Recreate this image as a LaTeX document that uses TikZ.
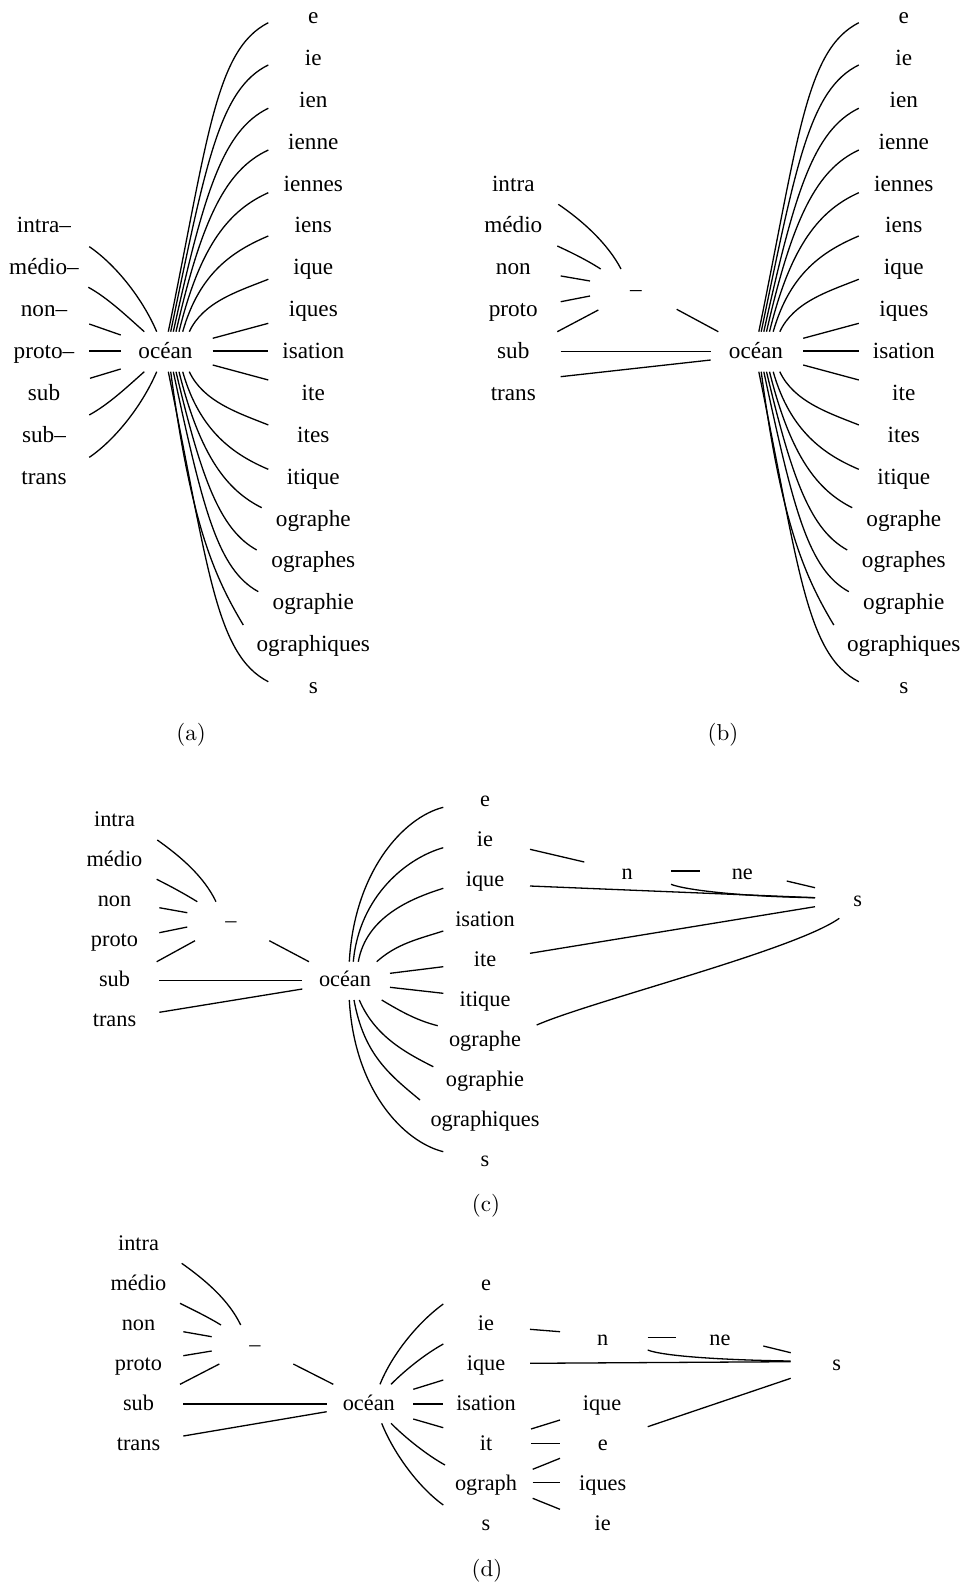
\documentclass[tikz,border=0pt]{standalone}
\usepackage{fontspec}
\usetikzlibrary{calc}
\newfontfamily\labelfamily{Liberation Serif}
\newfontfamily\capfamily{lmroman10-regular.otf}
\newcommand\labfontA{\labelfamily\fontsize{23.2pt}{28pt}\selectfont}
\newcommand\labfontB{\labelfamily\fontsize{22.3pt}{27pt}\selectfont}
\newcommand\capfont{\capfamily\fontsize{23pt}{28pt}\selectfont}
% curved connector: start node, offset, first control (rel. to start),
% second control (rel. to end), end node, offset
\newcommand\curveEdge[6]{\draw[link] ($(#1)+(#2)$) .. controls ($(#1)+(#2)+(#3)$) and ($(#5)+(#6)+(#4)$) .. ($(#5)+(#6)$);}
% straight connector: start node, offset, end node, offset
\newcommand\lineEdge[4]{\draw[link] ($(#1)+(#2)$) -- ($(#3)+(#4)$);}
% suffix fan of the full trees (panels a and b)
\newcommand\suffixFan[1]{%
  \curveEdge{#1oc}{2.8,-21.6}{40,-195}{-53,27}{#1r0}{-45,4.4}%
  \curveEdge{#1oc}{5.2,-21.6}{35,-168}{-49,24}{#1r1}{-45,4.8}%
  \curveEdge{#1oc}{7.8,-21.6}{31,-141}{-45,22}{#1r2}{-45,6.2}%
  \curveEdge{#1oc}{10.5,-21.6}{26,-114}{-42,19.5}{#1r3}{-45,6.1}%
  \curveEdge{#1oc}{13.5,-21.6}{21.5,-88}{-38,17}{#1r4}{-45,6.9}%
  \curveEdge{#1oc}{17.2,-21.6}{17,-60}{-34,14.5}{#1r5}{-45,8.3}%
  \curveEdge{#1oc}{23.8,-21.6}{14,-30}{-30,12}{#1r6}{-45,9.7}%
  \lineEdge{#1oc}{47.2,-15}{#1r7}{-45,11.9}%
  \lineEdge{#1oc}{47.2,-2.3}{#1r8}{-45,-2.3}%
  \lineEdge{#1oc}{47.2,11.7}{#1r9}{-45,-15.2}%
  \curveEdge{#1oc}{23.8,18.4}{14,30}{-30,-12}{#1r10}{-45,-12.1}%
  \curveEdge{#1oc}{17.2,18.4}{17,60}{-34,-14.5}{#1r11}{-45,-9.6}%
  \curveEdge{#1oc}{13.5,18.4}{21.5,86}{-34,-17}{#1r12}{-51.6,-13.1}%
  \curveEdge{#1oc}{10.5,18.4}{26,110}{-36,-20}{#1r13}{-56.6,-12.7}%
  \curveEdge{#1oc}{7.8,18.4}{30,140}{-40,-22}{#1r14}{-55,-12.9}%
  \curveEdge{#1oc}{5.2,18.4}{20,150}{-30,-50}{#1r15}{-70,-21.4}%
  \curveEdge{#1oc}{2.8,18.4}{40,195}{-53,-27}{#1r16}{-45,-6.6}%
}
\begin{document}
\begin{tikzpicture}[x=1pt,y=-1pt,
  lab/.style={inner sep=0pt,text height=15.7pt,text depth=5.2pt,font=\labfontA},
  labsm/.style={inner sep=0pt,text height=15.2pt,text depth=5pt,font=\labfontB},
  captext/.style={inner sep=0pt,font=\capfont},
  link/.style={line width=1.3pt}]
\fill[white] (0,0) rectangle (965,1584);
\useasboundingbox (0,0) rectangle (965,1584);

% ---------- (a) and (b): labels ----------
\node[lab] (aoc) at (165.5,353.3) {océan};
\node[lab] (boc) at (756,353.3) {océan};
\foreach \w [count=\k from 0] in {e,ie,ien,ienne,iennes,iens,ique,iques,isation,ite,ites,itique,ographe,ographes,ographie,ographiques,s}{
  \node[lab] (ar\k) at (313.3,18.3+41.875*\k) {\w};
  \node[lab] (br\k) at (903.8,18.3+41.875*\k) {\w};
}
\foreach \w [count=\k from 5] in {intra–,médio–,non–,proto–,sub,sub–,trans}
  \node[lab] (al\k) at (44,18.3+41.875*\k) {\w};
\foreach \w [count=\k from 4] in {intra,médio,non,proto,sub,trans}
  \node[lab] (bl\k) at (513.3,18.3+41.875*\k) {\w};
\node[lab] (bdash) at (636,291.7) {–};

% ---------- (a): connectors ----------
\curveEdge{al5}{45.3,19}{25,17}{-15,-35}{aoc}{-8.8,-21.6}
\curveEdge{al6}{44.3,17.7}{20,11}{-17,-15}{aoc}{-21.2,-21.6}
\lineEdge{al7}{45.3,12.6}{aoc}{-44.8,-18.3}
\lineEdge{al8}{45.3,-2.3}{aoc}{-44.8,-2.3}
\lineEdge{al9}{46,-16.9}{aoc}{-44.8,15.7}
\curveEdge{al10}{45.3,-22.1}{20,-11}{-17,15}{aoc}{-21.2,18.4}
\curveEdge{al11}{45.3,-21.6}{25,-17}{-15,35}{aoc}{-8.8,18.4}
\suffixFan{a}

% ---------- (b): connectors ----------
\curveEdge{bl4}{45,18.5}{25,17}{-13,-25}{bdash}{-15,-22.7}
\curveEdge{bl5}{44,18.3}{15,7}{-14,-9}{bdash}{-35.3,-22.7}
\lineEdge{bl6}{47.4,6.4}{bdash}{-46,-10.7}
\lineEdge{bl7}{47.4,-9.7}{bdash}{-46,4.3}
\lineEdge{bl8}{44,-21.6}{bdash}{-37.7,18.3}
\lineEdge{bdash}{40.7,17.6}{boc}{-37.7,-21.6}
\lineEdge{bl8}{47.4,-1.6}{boc}{-45.3,-1.6}
\lineEdge{bl9}{47.4,-18.5}{boc}{-45.3,6.7}
\suffixFan{b}

% ---------- (c) ----------
\node[labsm] (coc) at (345,981.7) {océan};
\node[labsm] (cdash) at (231,922) {–};
\foreach \w [count=\i from 0] in {intra,médio,non,proto,sub,trans}
  \node[labsm] (cl\i) at (114.5,821.7+40*\i) {\w};
\foreach \w [count=\j from 0] in {e,ie,ique,isation,ite,itique,ographe,ographie,ographiques,s}
  \node[labsm] (cr\j) at (485,801.7+40*\j) {\w};
\node[labsm] (cn) at (627.3,874) {n};
\node[labsm] (cne) at (742.3,874) {ne};
\node[labsm] (cs) at (857.7,901) {s};

\curveEdge{cl0}{42.8,18.3}{24,17}{-12,-25}{cdash}{-15,-20.3}
\curveEdge{cl1}{42.2,17.6}{14,7}{-13,-8}{cdash}{-33.7,-20.3}
\lineEdge{cl2}{44.8,6}{cdash}{-43.7,-9.3}
\lineEdge{cl3}{44.8,-9}{cdash}{-43.7,5}
\lineEdge{cl4}{42.2,-20}{cdash}{-36,18.7}
\lineEdge{cdash}{38.3,18.7}{coc}{-36,-20}
\lineEdge{cl4}{44.8,-1}{coc}{-42.7,-1}
\lineEdge{cl5}{44.8,-9.4}{coc}{-42.7,7.3}
\curveEdge{coc}{4.3,-20}{5,-90}{-40,10}{cr0}{-41.7,5.6}
\curveEdge{coc}{8.3,-20}{6,-66}{-36,10}{cr1}{-41.7,6}
\curveEdge{coc}{13.3,-20}{8,-45}{-32,10}{cr2}{-41.7,6.6}
\curveEdge{coc}{31.7,-20}{20,-18}{-25,8}{cr3}{-41.7,9.3}
\lineEdge{coc}{45,-8.4}{cr4}{-41.7,5}
\lineEdge{coc}{45,5.6}{cr5}{-41.7,-8.4}
\curveEdge{coc}{36.7,18.3}{20,12}{-20,-5}{cr6}{-47.3,-16}
\curveEdge{coc}{14.3,18.3}{15,35}{-30,-15}{cr7}{-51.7,-15}
\curveEdge{coc}{9,18.3}{10,55}{-30,-25}{cr8}{-65,-21.7}
\curveEdge{coc}{4.3,18.3}{5,90}{-40,-10}{cr9}{-41.7,-10}
\lineEdge{cr1}{45,7.6}{cn}{-43,-12}
\lineEdge{cn}{43.7,-3}{cne}{-42.3,-3}
\curveEdge{cn}{43.7,10.3}{15,6}{-70,-1}{cs}{-42.7,-3.3}
\lineEdge{cne}{44.4,7}{cs}{-42.7,-13.3}
\lineEdge{cr2}{45,4.3}{cs}{-42.7,-3.3}
\lineEdge{cr4}{45,-8.4}{cs}{-42.7,5.7}
\curveEdge{cr6}{51.7,-16.7}{55,-24}{-45,32}{cs}{-18.4,17.3}

% ---------- (d) ----------
\node[labsm] (doc) at (368.8,1405) {océan};
\node[labsm] (ddash) at (255,1346.7) {–};
\foreach \w [count=\i from 0] in {intra,médio,non,proto,sub,trans}
  \node[labsm] (dl\i) at (138.5,1245+40*\i) {\w};
\foreach \w [count=\j from 0] in {e,ie,ique,isation,it,ograph,s}
  \node[labsm] (dr\j) at (486,1285+40*\j) {\w};
\node[labsm] (dn) at (602.7,1340) {n};
\node[labsm] (dne) at (720,1340) {ne};
\node[labsm] (ds) at (836.7,1365) {s};
\node[labsm] (dq) at (602,1405) {ique};
\node[labsm] (de) at (602.7,1445) {e};
\node[labsm] (dqs) at (602.7,1485) {iques};
\node[labsm] (die) at (602.7,1525) {ie};

\curveEdge{dl0}{43.2,18.3}{24,17}{-12,-25}{ddash}{-14.3,-21.7}
\curveEdge{dl1}{41.5,18.3}{14,7}{-13,-8}{ddash}{-34,-21.7}
\lineEdge{dl2}{44.8,6.7}{ddash}{-43.3,-10}
\lineEdge{dl3}{44.8,-9.3}{ddash}{-43.3,4.3}
\lineEdge{dl4}{41.5,-20.7}{ddash}{-35.7,17.3}
\lineEdge{ddash}{38.3,17.3}{doc}{-35.5,-20.7}
\lineEdge{dl4}{44.8,-1}{doc}{-42.1,-1}
\lineEdge{dl5}{44.8,-9}{doc}{-42.1,6.7}
\curveEdge{doc}{11.2,-20.7}{12,-30}{-25,18}{dr0}{-42.7,19}
\curveEdge{doc}{22.2,-20.7}{15,-15}{-18,10}{dr1}{-42.7,19}
\lineEdge{doc}{44.5,-15.7}{dr2}{-42.7,15}
\lineEdge{doc}{44.5,-1}{dr3}{-42.7,-1}
\lineEdge{doc}{44.5,14}{dr4}{-42.7,-17.3}
\curveEdge{doc}{22.2,18.3}{15,15}{-18,-10}{dr5}{-41,-20}
\curveEdge{doc}{12.9,18.3}{12,30}{-25,-18}{dr6}{-42.7,-20}
\lineEdge{dr1}{44,4.3}{dn}{-42.7,-8.3}
\lineEdge{dn}{45,-2.7}{dne}{-44.3,-2.7}
\curveEdge{dn}{45,10}{15,6}{-70,-1}{ds}{-46,-4}
\lineEdge{dne}{43.3,6}{ds}{-46,-12.3}
\lineEdge{dr2}{44,-1.7}{ds}{-46,-3.3}
\lineEdge{dq}{45.7,21.7}{ds}{-46,13.3}
\lineEdge{dr4}{45,-16}{dq}{-42,15}
\lineEdge{dr4}{45,-1.7}{de}{-42.7,-1.7}
\lineEdge{dr5}{46.7,-15.7}{de}{-42.7,13.3}
\lineEdge{dr5}{46.7,-2.3}{dqs}{-42.7,-2.3}
\lineEdge{dr5}{46.7,13.3}{die}{-42.7,-15.7}

% ---------- captions ----------
\node[captext] (capa) at (191,735) {(a)};
\node[captext] (capb) at (723,735) {(b)};
\node[captext] (capc) at (486,1206) {(c)};
\node[captext] (capd) at (487,1571) {(d)};
\end{tikzpicture}
\end{document}
